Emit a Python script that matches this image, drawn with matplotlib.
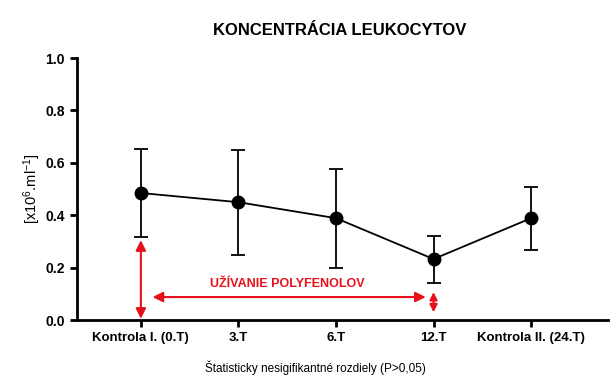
import matplotlib
matplotlib.use('Agg')
import matplotlib.pyplot as plt

plt.rcParams['font.family'] = ['Liberation Sans', 'DejaVu Sans']
plt.rcParams['mathtext.fontset'] = 'custom'
plt.rcParams['mathtext.rm'] = 'Liberation Sans'
plt.rcParams['mathtext.it'] = 'Liberation Sans'

# data
categories = ['Kontrola I. (0.T)', '3.T', '6.T', '12.T', 'Kontrola II. (24.T)']
means = [0.485, 0.450, 0.389, 0.233, 0.389]
err_upper = [0.652, 0.651, 0.577, 0.321, 0.508]
err_lower = [0.317, 0.248, 0.198, 0.141, 0.267]

fig = plt.figure(figsize=(6.1, 3.82), dpi=100)
ax = fig.add_axes([0.126, 0.162, 0.871, 0.686])

x = list(range(len(categories)))
yerr = [[m - lo for m, lo in zip(means, err_lower)],
        [hi - m for m, hi in zip(means, err_upper)]]
ax.errorbar(x, means, yerr=yerr, fmt='o-', color='black', ms=9, lw=1.3,
            elinewidth=1.3, capsize=5, capthick=1.3, zorder=3)

ax.set_xlim(-0.656, 4.79)
ax.set_ylim(0, 1.0)
ax.set_yticks([0.0, 0.2, 0.4, 0.6, 0.8, 1.0])
ax.set_yticklabels(['0.0', '0.2', '0.4', '0.6', '0.8', '1.0'], fontweight='bold', fontsize=10)
ax.set_xticks(x)
ax.set_xticklabels(categories, fontweight='bold', fontsize=9.5)
ax.tick_params(width=2, length=5)
for s in ['top', 'right']:
    ax.spines[s].set_visible(False)
for s in ['left', 'bottom']:
    ax.spines[s].set_linewidth(2)
ax.set_ylabel(r'[x10$^{6}$.ml$^{\mathrm{-1}}$]', fontsize=10.5, labelpad=2)

# red annotation arrows
red = '#e8101a'
arrow = dict(arrowstyle='<|-|>', color=red, lw=1.5, mutation_scale=15, shrinkA=0, shrinkB=0)
ax.annotate('', xy=(0, 0.005), xytext=(0, 0.305), arrowprops=arrow)
ax.annotate('', xy=(0.12, 0.088), xytext=(2.92, 0.088), arrowprops=arrow)
ax.annotate('', xy=(3, 0.03), xytext=(3, 0.107), arrowprops=dict(arrow, mutation_scale=11))
ax.text(1.5, 0.137, 'UŽÍVANIE POLYFENOLOV', color=red, fontweight='bold',
        fontsize=9, ha='center', va='center')

fig.text(0.557, 0.92, 'KONCENTRÁCIA LEUKOCYTOV', fontweight='bold', fontsize=12,
         ha='center', va='center')
fig.text(0.517, 0.037, 'Štatisticky nesigifikantné rozdiely (P>0,05)', fontsize=8.5,
         ha='center', va='center')

fig.savefig('out.png', dpi=100)
